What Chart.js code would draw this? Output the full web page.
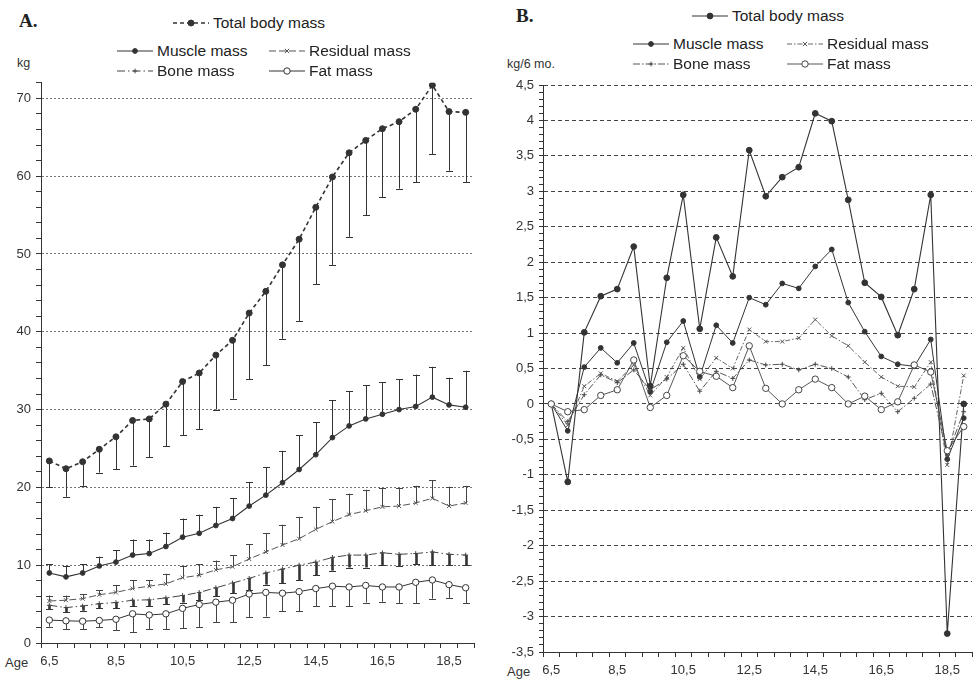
<!DOCTYPE html>
<html>
<head>
<meta charset="utf-8">
<script src="https://cdn.jsdelivr.net/npm/chart.js@4/dist/chart.umd.min.js"></script>
<style>
  html, body { margin: 0; padding: 0; background: #fff; }
  body { width: 977px; height: 679px; position: relative; overflow: hidden;
         font-family: "Liberation Sans", Arial, sans-serif; color: #222; }
  canvas { position: absolute; }
  .txt { position: absolute; white-space: nowrap; line-height: 18px; }
  .panel-title { font-family: "Liberation Serif", "Times New Roman", serif; font-weight: bold; font-size: 19px; }
  .leg { font-size: 15.5px; color: #222; }
  .unit { font-size: 12.5px; color: #333; }
  .leg-item { position: absolute; display: flex; align-items: center; white-space: nowrap; }
</style>
</head>
<body>
<div class="txt panel-title" style="left:19px; top:12px;">A.</div>
<div class="txt panel-title" style="left:516px; top:7px;">B.</div>
<div class="txt unit" style="left:17px; top:54px;">kg</div>
<div class="txt unit" style="left:507px; top:55px;">kg/6 mo.</div>
<div class="txt unit" style="left:5px; top:654px; font-size:13px;">Age</div>
<div class="txt unit" style="left:507px; top:663px; font-size:13px;">Age</div>

<canvas id="chartA" width="479" height="609" style="left:0px; top:70px;"></canvas>
<canvas id="chartB" width="487" height="609" style="left:490px; top:70px;"></canvas>

<script>
// Age in years, one point every six months
const ages = ['6,5','7','7,5','8','8,5','9','9,5','10','10,5','11','11,5','12','12,5',
              '13','13,5','14','14,5','15','15,5','16','16,5','17','17,5','18','18,5','19'];

// A. Body mass components (kg)
const totalMass    = [23.4, 22.4, 23.3, 24.9, 26.5, 28.6, 28.8, 30.7, 33.6, 34.7, 37.0, 38.9, 42.4,
                      45.2, 48.6, 51.9, 56.0, 59.9, 63.0, 64.6, 66.1, 67.0, 68.6, 71.7, 68.3, 68.2];
const muscleMass   = [9.0, 8.5, 9.0, 9.9, 10.4, 11.3, 11.5, 12.4, 13.6, 14.1, 15.1, 16.0, 17.6,
                      19.0, 20.6, 22.3, 24.2, 26.4, 27.9, 28.8, 29.4, 30.0, 30.4, 31.6, 30.6, 30.3];
const residualMass = [5.4, 5.5, 5.7, 6.2, 6.5, 7.0, 7.3, 7.6, 8.4, 8.7, 9.4, 9.8, 10.8,
                      11.7, 12.6, 13.4, 14.6, 15.6, 16.5, 17.0, 17.5, 17.6, 18.0, 18.6, 17.6, 18.0];
const boneMass     = [4.85, 4.55, 4.75, 5.05, 5.2, 5.5, 5.55, 5.8, 6.1, 6.5, 7.1, 7.7, 8.3,
                      9.0, 9.5, 10.0, 10.4, 11.0, 11.3, 11.3, 11.6, 11.4, 11.5, 11.7, 11.4, 11.3];
const fatMass      = [2.95, 2.85, 2.8, 2.9, 3.05, 3.75, 3.6, 3.75, 4.45, 4.95, 5.25, 5.5, 6.3,
                      6.5, 6.4, 6.6, 7.0, 7.3, 7.2, 7.4, 7.2, 7.2, 7.8, 8.1, 7.5, 7.1];

// A. Standard deviations (kg)
const totalSd    = [3.4, 3.6, 3.1, 3.0, 4.2, 5.8, 4.9, 5.4, 6.9, 7.2, 7.0, 7.5, 8.5,
                    9.5, 9.5, 10.5, 9.9, 11.3, 10.8, 9.6, 8.8, 8.6, 9.4, 8.9, 7.6, 9.0];
const muscleSd   = [1.1, 1.45, 1.1, 1.2, 1.5, 2.0, 1.8, 1.8, 2.4, 2.4, 2.4, 2.6, 3.1,
                    3.6, 4.1, 4.4, 4.2, 4.8, 4.5, 4.3, 4.1, 3.9, 4.1, 3.9, 3.5, 4.7];
const residualSd = [0.7, 0.6, 0.6, 0.6, 0.9, 1.1, 0.8, 1.3, 1.5, 1.4, 1.2, 1.5, 1.9,
                    2.4, 2.6, 2.8, 2.9, 2.9, 2.7, 2.7, 2.4, 2.3, 2.2, 2.3, 2.5, 2.2];
const boneSd     = [0.5, 0.6, 0.6, 0.6, 0.7, 0.8, 0.8, 0.8, 0.9, 1.0, 1.1, 1.3, 1.5,
                    1.5, 1.8, 1.9, 1.7, 1.7, 1.6, 1.6, 1.6, 1.5, 1.4, 1.7, 1.4, 1.3];
const fatSd      = [0.85, 1.05, 1.05, 0.9, 1.4, 2.35, 1.8, 1.95, 2.55, 2.95, 2.55, 2.8, 3.0,
                    3.1, 2.3, 2.5, 2.3, 2.6, 2.5, 2.2, 1.9, 2.1, 2.7, 2.4, 1.7, 2.0];

// B. Six-monthly increments (kg / 6 months)
const totalGain    = [0, -1.10, 1.01, 1.52, 1.62, 2.22, 0.25, 1.78, 2.95, 1.06, 2.35, 1.80, 3.58,
                      2.93, 3.20, 3.34, 4.10, 3.99, 2.88, 1.71, 1.51, 0.97, 1.62, 2.95, -3.24, 0.00];
const muscleGain   = [0, -0.38, 0.52, 0.79, 0.58, 0.86, 0.17, 0.87, 1.17, 0.38, 1.11, 0.86, 1.50,
                      1.40, 1.70, 1.63, 1.94, 2.18, 1.43, 1.02, 0.67, 0.56, 0.53, 0.91, -0.78, -0.20];
const residualGain = [0, -0.30, 0.25, 0.43, 0.32, 0.55, 0.12, 0.38, 0.79, 0.35, 0.65, 0.50, 1.05,
                      0.88, 0.88, 0.93, 1.19, 0.96, 0.82, 0.59, 0.38, 0.25, 0.24, 0.59, -0.86, 0.40];
const boneGain     = [0, -0.25, 0.13, 0.41, 0.30, 0.48, 0.20, 0.35, 0.56, 0.18, 0.46, 0.36, 0.62,
                      0.55, 0.56, 0.48, 0.56, 0.50, 0.38, 0.06, 0.15, -0.11, 0.08, 0.28, -0.72, -0.11];
const fatGain      = [0, -0.11, -0.08, 0.12, 0.20, 0.62, -0.05, 0.12, 0.68, 0.46, 0.39, 0.23, 0.82,
                      0.22, 0.00, 0.20, 0.35, 0.23, 0.00, 0.11, -0.08, 0.03, 0.55, 0.45, -0.66, -0.32];

// Series names
const seriesNames = {
  total: 'Total body mass', muscle: 'Muscle mass', residual: 'Residual mass',
  bone: 'Bone mass', fat: 'Fat mass'
};

// Line / marker styles per panel
const stylesA = {
  total:    { color: '#333', width: 1.6, dash: [4, 3],          marker: 'circle',   r: 3.0, fill: '#333' },
  muscle:   { color: '#333', width: 1.1, dash: [],              marker: 'circle',   r: 2.4, fill: '#333' },
  residual: { color: '#555', width: 1.0, dash: [7, 3],          marker: 'crossRot', r: 2.8, fill: '#555' },
  bone:     { color: '#444', width: 1.0, dash: [8, 3, 1.5, 3],  marker: 'cross',    r: 2.4, fill: '#444' },
  fat:      { color: '#333', width: 1.0, dash: [],              marker: 'circle',   r: 3.2, fill: '#fff' }
};
const stylesB = {
  total:    { color: '#333', width: 1.1, dash: [],              marker: 'circle',   r: 2.9, fill: '#333' },
  muscle:   { color: '#333', width: 1.0, dash: [],              marker: 'circle',   r: 2.4, fill: '#333' },
  residual: { color: '#555', width: 0.9, dash: [5, 2, 1.5, 2],  marker: 'crossRot', r: 2.8, fill: '#555' },
  bone:     { color: '#444', width: 0.9, dash: [7, 2, 1.5, 2],  marker: 'cross',    r: 2.4, fill: '#444' },
  fat:      { color: '#444', width: 0.9, dash: [],              marker: 'circle',   r: 3.2, fill: '#fff' }
};

// Legend placement (left edge of line sample, vertical centre)
const legendA = [
  { key: 'total', x: 173, y: 23 }, { key: 'muscle', x: 117, y: 51 }, { key: 'residual', x: 269, y: 51 },
  { key: 'bone', x: 117, y: 71 },  { key: 'fat', x: 269, y: 71 }
];
const legendB = [
  { key: 'total', x: 692, y: 16 }, { key: 'muscle', x: 633, y: 44 }, { key: 'residual', x: 787, y: 44 },
  { key: 'bone', x: 633, y: 64 },  { key: 'fat', x: 787, y: 64 }
];

function markerSvg(st, cx, cy) {
  if (st.marker === 'circle')
    return `<circle cx="${cx}" cy="${cy}" r="${st.r}" fill="${st.fill}" stroke="${st.color}" stroke-width="1"/>`;
  const r = st.r;
  if (st.marker === 'cross')
    return `<path d="M${cx - r} ${cy}H${cx + r}M${cx} ${cy - r}V${cy + r}" stroke="${st.color}" stroke-width="1"/>`;
  const d = r * 0.75;
  return `<path d="M${cx - d} ${cy - d}L${cx + d} ${cy + d}M${cx - d} ${cy + d}L${cx + d} ${cy - d}" stroke="${st.color}" stroke-width="1"/>`;
}

function buildLegend(items, styles) {
  items.forEach(it => {
    const st = styles[it.key];
    const el = document.createElement('div');
    el.className = 'leg-item';
    el.style.left = it.x + 'px';
    el.style.top = (it.y - 9) + 'px';
    el.style.height = '18px';
    const dash = st.dash.length ? `stroke-dasharray="${st.dash.join(' ')}"` : '';
    el.innerHTML =
      `<svg width="36" height="12" style="margin-right:4px">` +
      `<line x1="0" y1="6" x2="36" y2="6" stroke="${st.color}" stroke-width="${Math.min(st.width, 1.3)}" ${dash}/>` +
      markerSvg(st, 18, 6) + `</svg><span class="leg">${seriesNames[it.key]}</span>`;
    document.body.appendChild(el);
  });
}
buildLegend(legendA, stylesA);
buildLegend(legendB, stylesB);

// Vertical SD bars with caps, positioned through the chart's own scales
const errorBarPlugin = {
  id: 'errorBars',
  beforeDatasetsDraw(chart) {
    const ctx = chart.ctx;
    const yScale = chart.scales.y;
    chart.data.datasets.forEach((ds, di) => {
      if (!ds.sd) return;
      const meta = chart.getDatasetMeta(di);
      ctx.save();
      ctx.strokeStyle = ds.sdColor;
      meta.data.forEach((pt, i) => {
        const v = ds.data[i];
        const end = ds.sdDir === 'up' ? v + ds.sd[i] : v - ds.sd[i];
        const x = Math.round(pt.x) + 0.5;
        const y0 = yScale.getPixelForValue(v);
        const y1 = yScale.getPixelForValue(end);
        ctx.lineWidth = ds.sdWidth;
        ctx.beginPath();
        ctx.moveTo(x, y0);
        ctx.lineTo(x, y1);
        ctx.stroke();
        ctx.lineWidth = 1;
        ctx.beginPath();
        ctx.moveTo(x - 3.5, Math.round(y1) + 0.5);
        ctx.lineTo(x + 3.5, Math.round(y1) + 0.5);
        ctx.stroke();
      });
      ctx.restore();
    });
  }
};

function lineDataset(key, data, st, extra) {
  return Object.assign({
    label: seriesNames[key],
    data: data,
    borderColor: st.color,
    borderWidth: st.width,
    borderDash: st.dash,
    pointStyle: st.marker,
    pointRadius: st.r,
    pointBorderWidth: 1,
    pointBorderColor: st.color,
    pointBackgroundColor: st.fill,
    tension: 0,
    fill: false
  }, extra || {});
}

const tickFont = { family: '"Liberation Sans", Arial, sans-serif', size: 13 };

function xAxis(height) {
  return {
    type: 'category',
    offset: true,
    grid: { display: true, drawOnChartArea: false, offset: true, tickLength: 5, tickColor: '#333', lineWidth: 1 },
    border: { display: true, color: '#333', width: 1 },
    ticks: {
      autoSkip: false, maxRotation: 0, minRotation: 0, padding: 6, color: '#333', font: tickFont,
      callback(value, index) { return index % 4 === 0 ? this.getLabelForValue(value) : ''; }
    },
    afterFit(scale) { scale.height = height; }
  };
}

// Panel A: body mass by age, with SD bars
new Chart(document.getElementById('chartA'), {
  type: 'line',
  data: {
    labels: ages,
    datasets: [
      lineDataset('fat', fatMass, stylesA.fat, { sd: fatSd, sdDir: 'down', sdWidth: 1, sdColor: '#444' }),
      lineDataset('bone', boneMass, stylesA.bone, { sd: boneSd, sdDir: 'down', sdWidth: 2.6, sdColor: '#333' }),
      lineDataset('residual', residualMass, stylesA.residual, { sd: residualSd, sdDir: 'up', sdWidth: 1, sdColor: '#444' }),
      lineDataset('muscle', muscleMass, stylesA.muscle, { sd: muscleSd, sdDir: 'up', sdWidth: 1, sdColor: '#333' }),
      lineDataset('total', totalMass, stylesA.total, { sd: totalSd, sdDir: 'down', sdWidth: 1, sdColor: '#333' })
    ]
  },
  options: {
    responsive: false, animation: false, devicePixelRatio: 1,
    layout: { padding: { top: 10, right: 0, bottom: 0, left: 0 } },
    plugins: { legend: { display: false }, tooltip: { enabled: false } },
    scales: {
      x: xAxis(36),
      y: {
        type: 'linear', min: 0, max: 72,
        grid: {
          color: c => (c.tick && c.tick.value % 10 === 0 && c.tick.value > 0 && c.tick.value < 72) ? '#777' : 'rgba(0,0,0,0)',
          tickColor: '#333', tickLength: 5, lineWidth: 1
        },
        border: { display: true, color: '#333', width: 1, dash: [2, 2] },
        ticks: {
          stepSize: 2, autoSkip: false, maxTicksLimit: 200, padding: 5, color: '#333', font: tickFont,
          callback: v => (v % 10 === 0 ? String(v) : '')
        },
        afterFit(scale) { scale.width = 41; }
      }
    }
  },
  plugins: [errorBarPlugin]
});

// Panel B: six-monthly gains
new Chart(document.getElementById('chartB'), {
  type: 'line',
  data: {
    labels: ages,
    datasets: [
      lineDataset('fat', fatGain, stylesB.fat),
      lineDataset('bone', boneGain, stylesB.bone),
      lineDataset('residual', residualGain, stylesB.residual),
      lineDataset('muscle', muscleGain, stylesB.muscle),
      lineDataset('total', totalGain, stylesB.total)
    ]
  },
  options: {
    responsive: false, animation: false, devicePixelRatio: 1,
    layout: { padding: { top: 15, right: 0, bottom: 0, left: 0 } },
    plugins: { legend: { display: false }, tooltip: { enabled: false } },
    scales: {
      x: xAxis(27),
      y: {
        type: 'linear', min: -3.5, max: 4.5,
        grid: {
          color: c => {
            if (!c.tick) return 'rgba(0,0,0,0)';
            const t = Math.round(c.tick.value * 10);
            return (t % 5 === 0 && t > -35) ? '#444' : 'rgba(0,0,0,0)';
          },
          tickColor: '#333', tickLength: 4, lineWidth: 1
        },
        border: { display: true, color: '#333', width: 1, dash: [4, 3] },
        ticks: {
          stepSize: 0.1, autoSkip: false, maxTicksLimit: 200, padding: 5, color: '#333', font: tickFont,
          callback: v => {
            const t = Math.round(v * 10);
            if (t % 5 !== 0) return '';
            return String(t / 10).replace('.', ',');
          }
        },
        afterFit(scale) { scale.width = 53; }
      }
    }
  }
});
</script>
</body>
</html>
